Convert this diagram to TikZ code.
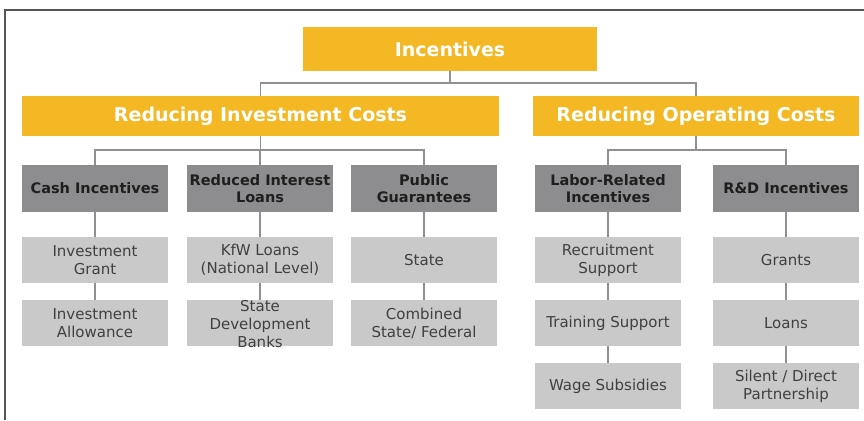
\documentclass[tikz,border=0pt]{standalone}
\usepackage{fontspec}
\setmainfont{DejaVu Sans}
\definecolor{gold}{HTML}{F3B823}
\definecolor{darkbox}{HTML}{8D8D8F}
\definecolor{lightbox}{HTML}{C9C9CA}
\definecolor{conn}{HTML}{8E9094}
\definecolor{frame}{HTML}{555555}
\definecolor{hdtext}{HTML}{1E1E1E}
\definecolor{itemtext}{HTML}{404040}
\begin{document}
\begin{tikzpicture}[x=1pt,y=-1pt,
  goldbox/.style={fill=gold,text=white,font=\fontsize{19}{22}\selectfont\bfseries,inner sep=0pt,align=center},
  headbox/.style={fill=darkbox,text=hdtext,font=\fontsize{14.5}{17}\selectfont\bfseries,minimum width=146pt,minimum height=47pt,inner sep=0pt,align=center},
  itembox/.style={fill=lightbox,text=itemtext,font=\fontsize{15}{18}\selectfont,minimum width=146pt,minimum height=46pt,inner sep=0pt,align=center},
  itemtxt/.style={text=itemtext,font=\fontsize{15}{18}\selectfont,align=center,inner sep=0pt},
  link/.style={draw=conn,line width=1.5pt}]
\useasboundingbox (0,0) rectangle (864,420);
\fill[white] (0,0) rectangle (864,420);
\draw[frame,line width=1.5pt] (5,420) -- (5,10) -- (864,10);
% bus coordinates
\coordinate (b0) at (0,83);
\coordinate (b1) at (0,150);
% top level
\node[goldbox,minimum width=294pt,minimum height=43pt] (inc) at (450,49) {Incentives};
\node[goldbox,minimum width=477pt,minimum height=40pt] (ric) at (260.5,116) {Reducing Investment Costs};
\node[goldbox,minimum width=326pt,minimum height=40pt] (roc) at (696,116) {Reducing Operating Costs};
% headers
\node[headbox] (h1) at (95,188.5) {Cash Incentives};
\node[headbox] (h2) at (260,188.5) {Reduced Interest\\Loans};
\node[headbox] (h3) at (424,188.5) {Public\\Guarantees};
\node[headbox] (h4) at (608,188.5) {Labor-Related\\Incentives};
\node[headbox] (h5) at (786,188.5) {R\&D Incentives};
% items
\node[itembox] (a1) at (95,260) {Investment\\Grant};
\node[itembox] (a2) at (95,323) {Investment\\Allowance};
\node[itembox] (b1n) at (260,260) {KfW Loans\\(National Level)};
\node[itembox] (b2n) at (260,323) {};
\node[itembox] (c1) at (424,260) {State};
\node[itembox] (c2) at (424,323) {Combined\\State/ Federal};
\node[itembox] (d1) at (608,260) {Recruitment\\Support};
\node[itembox] (d2) at (608,323) {Training Support};
\node[itembox] (d3) at (608,386) {Wage Subsidies};
\node[itembox] (e1) at (786,260) {Grants};
\node[itembox] (e2) at (786,323) {Loans};
\node[itembox] (e3) at (786,386) {Silent / Direct\\Partnership};
% connectors
\draw[link] (inc.south) -- (inc.south |- b0) -| (ric.north);
\draw[link] (inc.south |- b0) -| (roc.north);
\draw[link] (ric.south) -- (ric.south |- b1);
\draw[link] (h1.north) |- (h3.north |- b1) -- (h3.north);
\draw[link] (h2.north) -- (h2.north |- b1);
\draw[link] (roc.south) -- (roc.south |- b1);
\draw[link] (h4.north) |- (h5.north |- b1) -- (h5.north);
\draw[link] (h1) -- (a1) (a1) -- (a2);
\draw[link] (h2) -- (b1n) (b1n) -- (b2n);
\draw[link] (h3) -- (c1) (c1) -- (c2);
\draw[link] (h4) -- (d1) (d1) -- (d2) (d2) -- (d3);
\draw[link] (h5) -- (e1) (e1) -- (e2) (e2) -- (e3);
\node[itemtxt] (b2t) at (260,324) {State\\Development\\Banks};
\end{tikzpicture}
\end{document}
